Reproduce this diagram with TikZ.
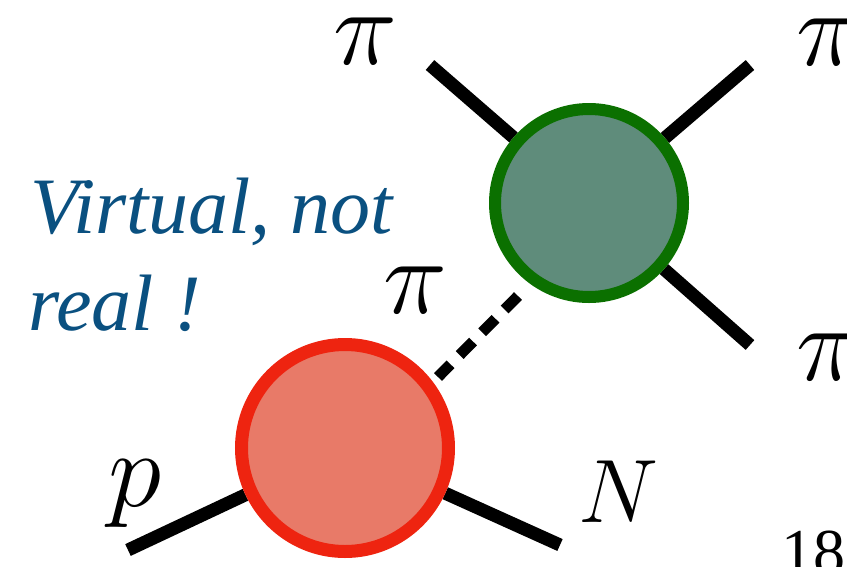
\RequirePackage{fix-cm}
\documentclass[tikz,border=0pt]{standalone}
\usepackage{fontspec}
\setmainfont{Liberation Serif}
\newfontfamily\vfont{Liberation Serif Italic}
\definecolor{gfill}{HTML}{5F8C7B}
\definecolor{gline}{HTML}{0B7000}
\definecolor{rfill}{HTML}{E87A68}
\definecolor{rline}{HTML}{EE2410}
\definecolor{tblue}{HTML}{0A5080}
\begin{document}
\begin{tikzpicture}[x=1pt,y=-1pt,
  leg/.style={line width=13pt,black},
  lbl/.style={inner sep=0pt,anchor=base west},
  mathlbl/.style={inner sep=0pt,anchor=base west,font=\fontsize{108}{108}\selectfont},
  note/.style={inner sep=0pt,anchor=base west,font=\vfont\fontsize{80}{80}\selectfont,text=tblue},
  blob/.style={circle,inner sep=0pt}]
\useasboundingbox (0,0) rectangle (847,566);
% vertices (placed first so that legs can end on them)
\node[blob,line width=12pt,minimum size=188pt] (G) at (589,203) {};
\node[blob,line width=13pt,minimum size=207pt] (R) at (345,448) {};
% free ends
\coordinate (ul) at (430,65);
\coordinate (ur) at (750,65);
\coordinate (lr) at (750,345);
\coordinate (pe) at (128,550);
\coordinate (ne) at (560,545);
\coordinate (d1) at (518,296);
\coordinate (d2) at (438,377);
\draw[leg] (ul) -- (G);
\draw[leg] (ur) -- (G);
\draw[leg] (lr) -- (G);
\draw[leg] (pe) -- (R);
\draw[leg] (ne) -- (R);
\draw[line width=11pt,dash pattern=on 19pt off 13pt] (d1) -- (d2);
% visible vertices
\node[blob,draw=gline,fill=gfill,line width=12pt,minimum size=188pt] (G2) at (G) {};
\node[blob,draw=rline,fill=rfill,line width=13pt,minimum size=207pt] (R2) at (R) {};
% labels
\node[mathlbl] (pi1) at (333,64) {$\pi$};
\node[mathlbl] (pi2) at (796,65) {$\pi$};
\node[mathlbl] (pi3) at (796,380) {$\pi$};
\node[mathlbl] (pi4) at (383,313) {$\pi$};
\node[mathlbl] (pl) at (108,506) {$p$};
\node[lbl,font=\fontsize{90}{90}\selectfont] (nl) at (578,522) {$N$};
\node[lbl,font=\fontsize{64}{64}\selectfont] (num) at (781,573) {18};
\node[note] (t1) at (30,233) {Virtual, not};
\node[note] (t2) at (28,330) {real !};
\end{tikzpicture}
\end{document}
